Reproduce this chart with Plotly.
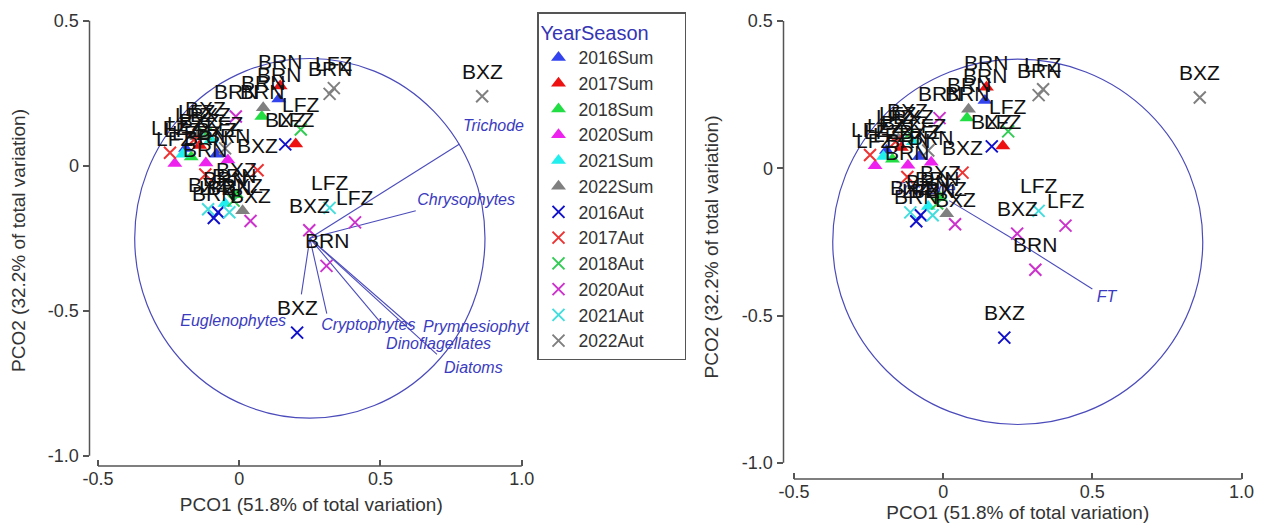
import plotly.graph_objects as go

# ---------------- data ----------------
groups = ["2016Sum", "2017Sum", "2018Sum", "2020Sum", "2021Sum", "2022Sum",
          "2016Aut", "2017Aut", "2018Aut", "2020Aut", "2021Aut", "2022Aut"]
colors = ["#3344ee", "#ee1111", "#22dd44", "#ee22ee", "#22eeee", "#808080",
          "#1111cc", "#ee3333", "#33cc55", "#cc33cc", "#44dddd", "#808080"]
symbols = ["triangle-up"] * 6 + ["x-thin"] * 6

pco1 = {
    "2016Sum": [0.14, -0.19, -0.08],
    "2017Sum": [0.145, 0.20, -0.14],
    "2018Sum": [0.08, -0.17, -0.01],
    "2020Sum": [-0.228, -0.118, -0.04],
    "2021Sum": [-0.20, -0.05, -0.10],
    "2022Sum": [0.085, 0.012, -0.15],
    "2016Aut": [0.205, 0.163, -0.09, -0.075],
    "2017Aut": [-0.245, 0.065, -0.12, -0.16],
    "2018Aut": [0.218, -0.02, -0.12],
    "2020Aut": [0.41, 0.248, 0.309, -0.012, 0.04],
    "2021Aut": [0.32, -0.11, -0.035],
    "2022Aut": [0.86, 0.32, 0.335, -0.05],
}
pco2 = {
    "2016Sum": [0.23, 0.06, 0.04],
    "2017Sum": [0.275, 0.075, 0.07],
    "2018Sum": [0.17, 0.03, -0.10],
    "2020Sum": [0.008, 0.01, 0.02],
    "2021Sum": [0.04, -0.13, 0.09],
    "2022Sum": [0.20, -0.155, 0.10],
    "2016Aut": [-0.575, 0.074, -0.18, -0.16],
    "2017Aut": [0.045, -0.015, -0.03, 0.09],
    "2018Aut": [0.125, -0.12, 0.11],
    "2020Aut": [-0.195, -0.222, -0.345, 0.17, -0.19],
    "2021Aut": [-0.145, -0.15, -0.16],
    "2022Aut": [0.24, 0.248, 0.268, 0.06],
}
sites = {
    "2016Sum": ["BRN", "LFZ", "BXZ"],
    "2017Sum": ["BRN", "LFZ", "BXZ"],
    "2018Sum": ["BRN", "LFZ", "BXZ"],
    "2020Sum": ["LFZ", "BRN", "BRN"],
    "2021Sum": ["LFZ", "BRN", "BXZ"],
    "2022Sum": ["BRN", "BXZ", "LFZ"],
    "2016Aut": ["BXZ", "BXZ", "BRN", "LFZ"],
    "2017Aut": ["LFZ", "BXZ", "BRN", "LFZ"],
    "2018Aut": ["LFZ", "BRN", "BXZ"],
    "2020Aut": ["LFZ", "BXZ", "BRN", "BRN", "BXZ"],
    "2021Aut": ["LFZ", "BXZ", "BRN"],
    "2022Aut": ["BXZ", "BRN", "LFZ", "LFZ"],
}

# vector overlay (correlation circle)
circle_center = (0.25, -0.25)
circle_radius = 0.62

left_vec_names = ["Trichode", "Chrysophytes", "Euglenophytes", "Cryptophytes",
                  "Prymnesiophyt", "Dinoflagellates", "Diatoms"]
left_vec_x = [0.78, 0.625, 0.22, 0.31, 0.61, 0.50, 0.70]
left_vec_y = [0.075, -0.155, -0.443, -0.51, -0.555, -0.54, -0.65]
left_lab_x = [0.792, 0.63, 0.166, 0.29, 0.651, 0.52, 0.725]
left_lab_y = [0.134, -0.121, -0.538, -0.552, -0.559, -0.617, -0.70]
left_lab_pos = ["middle right", "middle right", "middle left", "middle right",
                "middle right", "middle right", "middle right"]

right_vec_names = ["FT", "Trichode"]
right_vec_x = [0.50, 0.02]
right_vec_y = [-0.41, -0.11]
right_lab_x = [0.515, -0.06]
right_lab_y = [-0.44, -0.075]
right_lab_pos = ["middle right", "middle center"]

x_ticks = [-0.5, 0, 0.5, 1.0]
x_ticktext = ["-0.5", "0", "0.5", "1.0"]
y_ticks = [-1.0, -0.5, 0, 0.5]
y_ticktext = ["-1.0", "-0.5", "0", "0.5"]

# ---------------- figure ----------------
FONT = "Liberation Sans, Arial, sans-serif"
VEC_COLOR = "#4b4bbb"
LAB_COLOR = "#3b3bc0"

fig = go.Figure()

for axn, (xa, ya) in enumerate([("x", "y"), ("x2", "y2")]):
    cx, cy = circle_center
    fig.add_shape(type="circle", xref=xa, yref=ya,
                  x0=cx - circle_radius, x1=cx + circle_radius,
                  y0=cy - circle_radius, y1=cy + circle_radius,
                  line=dict(color=VEC_COLOR, width=1.2), layer="below")
    if axn == 0:
        vx, vy, ln, lx, ly, lp = (left_vec_x, left_vec_y, left_vec_names,
                                  left_lab_x, left_lab_y, left_lab_pos)
    else:
        vx, vy, ln, lx, ly, lp = (right_vec_x, right_vec_y, right_vec_names,
                                  right_lab_x, right_lab_y, right_lab_pos)
    for ex, ey in zip(vx, vy):
        fig.add_trace(go.Scatter(x=[cx, ex], y=[cy, ey], mode="lines",
                                 line=dict(color=VEC_COLOR, width=1.1),
                                 showlegend=False, hoverinfo="skip",
                                 xaxis=xa, yaxis=ya))
    fig.add_trace(go.Scatter(x=lx, y=ly, mode="text", text=ln,
                             textposition=lp, cliponaxis=True,
                             textfont=dict(family=FONT, size=16, color=LAB_COLOR,
                                           style="italic"),
                             showlegend=False, hoverinfo="skip",
                             xaxis=xa, yaxis=ya))
    for g, c, s in zip(groups, colors, symbols):
        if s == "x-thin":
            marker = dict(symbol=s, size=12, color=c, line=dict(color=c, width=2))
        else:
            marker = dict(symbol=s, size=13, color=c, line=dict(width=0))
        fig.add_trace(go.Scatter(x=pco1[g], y=pco2[g], mode="markers", name=g,
                                 marker=marker,
                                 showlegend=(axn == 0), xaxis=xa, yaxis=ya))
        for px, py, t in zip(pco1[g], pco2[g], sites[g]):
            fig.add_annotation(x=px, y=py, xref=xa, yref=ya, text=t,
                               showarrow=False, yshift=25,
                               font=dict(family=FONT, size=21, color="#111111"))

    fig.add_shape(type="line", xref=xa, yref=ya + " domain",
                  x0=x_ticks[0], x1=x_ticks[-1], y0=0, y1=0,
                  line=dict(color="#555555", width=1.5))
    fig.add_shape(type="line", xref=xa + " domain", yref=ya,
                  x0=0, x1=0, y0=y_ticks[0], y1=y_ticks[-1],
                  line=dict(color="#555555", width=1.5))

axis_common = dict(showgrid=False, zeroline=False, showline=False, automargin=False,
                   tickfont=dict(family=FONT, size=18, color="#333333"),
                   tickcolor="#555555", tickwidth=1.5, ticklen=6)
XTITLE = "PCO1 (51.8% of total variation)"
YTITLE = "PCO2 (32.2% of total variation)"
title_font = dict(family=FONT, size=19, color="#333333")
xt = dict(axis_common, tickvals=x_ticks, ticktext=x_ticktext, ticks="inside")
yt = dict(axis_common, tickvals=y_ticks, ticktext=y_ticktext, ticks="outside",
          title=dict(text=YTITLE, font=title_font, standoff=18))

W, H = 1262, 525
fig.update_layout(
    width=W, height=H, margin=dict(l=0, r=0, t=0, b=0),
    plot_bgcolor="white", paper_bgcolor="white",
    xaxis=dict(xt, domain=[81.5 / W, 525 / W], range=[-0.53, 1.04], anchor="y",
               title=dict(text=XTITLE, font=title_font, standoff=9)),
    yaxis=dict(yt, domain=[1 - 458 / H, 1 - 7 / H], range=[-1.035, 0.52], anchor="x"),
    xaxis2=dict(xt, domain=[775.5 / W, 1244 / W], range=[-0.535, 1.035], anchor="y2",
                title=dict(text=XTITLE, font=title_font, standoff=3)),
    yaxis2=dict(yt, domain=[1 - 471 / H, 1 - 7 / H], range=[-1.055, 0.52], anchor="x2"),
    legend=dict(x=529 / W, y=1 - 4 / H, xanchor="left", yanchor="top",
                bgcolor="white", bordercolor="#555555", borderwidth=1.5,
                font=dict(family=FONT, size=17.5, color="#333333"),
                title=dict(text="YearSeason\u00a0\u00a0\u00a0\u00a0\u00a0\u00a0",
                           font=dict(family=FONT, size=20, color="#3535b5")),
                traceorder="normal", itemwidth=30),
)

fig.write_html("out.html")
